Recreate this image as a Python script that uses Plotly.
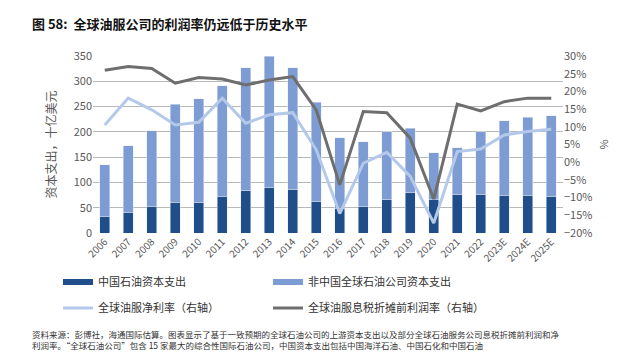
import plotly.graph_objects as go

years = ["2006", "2007", "2008", "2009", "2010", "2011", "2012", "2013", "2014", "2015",
         "2016", "2017", "2018", "2019", "2020", "2021", "2022", "2023E", "2024E", "2025E"]
capex_china = [32, 41, 53, 61, 61, 72, 85, 89, 87, 63, 49, 53, 66, 80, 66, 77, 77, 75, 75, 73]
capex_total = [135, 173, 202, 255, 265, 291, 327, 350, 327, 259, 188, 180, 200, 207, 159, 169, 200, 222, 229, 232]
capex_non_china = [t - c for t, c in zip(capex_total, capex_china)]
net_margin = [10.5, 18.1, 14.8, 10.5, 11.3, 18.1, 11.0, 13.4, 14.0, 3.5,
              -14.5, -0.3, 2.8, -4.0, -17.2, 3.0, 3.7, 7.7, 8.7, 9.3]
ebitda_margin = [26.0, 27.0, 26.5, 22.3, 23.9, 23.5, 21.8, 23.2, 24.2, 14.8,
                 -6.4, 14.3, 14.0, 6.8, -10.4, 16.4, 14.5, 17.1, 18.1, 18.1]

C_DARK = "#1F4E8A"
C_MID = "#7C9CD3"
C_LIGHT = "#B4C9EA"
C_GRAY = "#6E6E6E"
FONT = "Noto Sans CJK SC"

# plot area in pixels
PL, PR, PT, PB = 85, 555, 48, 225
PW, PH = PR - PL, PB - PT


def px_x(px):
    return (px - PL) / PW


def px_y(py):
    return (PB - py) / PH


fig = go.Figure()
fig.add_trace(go.Bar(x=years, y=capex_china, marker_color=C_DARK, showlegend=False, name="中国石油资本支出"))
fig.add_trace(go.Bar(x=years, y=capex_non_china, marker_color=C_MID, showlegend=False, name="非中国全球石油公司资本支出"))
fig.add_trace(go.Scatter(x=years, y=net_margin, yaxis="y2", mode="lines",
                         line=dict(color=C_LIGHT, width=3), name="全球油服净利率（右轴）", legend="legend3"))
fig.add_trace(go.Scatter(x=years, y=ebitda_margin, yaxis="y2", mode="lines",
                         line=dict(color=C_GRAY, width=3), name="全球油服息税折摊前利润率（右轴）", legend="legend4"))
# legend swatches for bars (drawn as thick lines like the reference)
fig.add_trace(go.Scatter(x=[None], y=[None], mode="lines", line=dict(color=C_DARK, width=6),
                         name="中国石油资本支出", legend="legend"))
fig.add_trace(go.Scatter(x=[None], y=[None], mode="lines", line=dict(color=C_MID, width=6),
                         name="非中国全球石油公司资本支出", legend="legend2"))


def leg(xp, yp):
    return dict(orientation="h", xref="paper", yref="paper", xanchor="left", yanchor="middle",
                x=px_x(xp), y=px_y(yp), font=dict(size=11, color="#333333", family=FONT),
                bgcolor="rgba(0,0,0,0)", itemwidth=30)


fig.update_layout(
    width=628, height=359,
    margin=dict(l=PL, r=628 - PR, t=PT, b=359 - PB),
    paper_bgcolor="white", plot_bgcolor="white",
    barmode="stack", bargap=0.58,
    font=dict(family=FONT, size=11, color="#595959"),
    xaxis=dict(type="category", tickangle=-45, tickfont=dict(size=10, color="#595959"),
               showgrid=False, showline=False, ticks="", range=[-0.5, 19.5]),
    yaxis=dict(range=[0, 350], dtick=50, gridcolor="#B8B8B8", gridwidth=1, zeroline=False,
               tickfont=dict(size=11, color="#595959"), ticks="",
               title=dict(text="资本支出，十亿美元", font=dict(size=12, color="#595959"), standoff=14)),
    yaxis2=dict(overlaying="y", side="right", range=[-20, 30], dtick=5, ticksuffix="%",
                showgrid=False, zeroline=False, tickfont=dict(size=11, color="#595959"),
                title=dict(text="%", font=dict(size=11, color="#595959"), standoff=8)),
    legend=leg(50, 274),
    legend2=leg(260, 274),
    legend3=leg(50, 300),
    legend4=leg(260, 300),
    showlegend=True,
)

fig.add_annotation(text="<b>图 58:  全球油服公司的利润率仍远低于历史水平</b>", xref="paper", yref="paper",
                   x=px_x(22), y=px_y(15), xanchor="left", yanchor="middle", showarrow=False,
                   font=dict(size=13, color="#111111", family=FONT))
fig.add_annotation(text="资料来源：彭博社，海通国际估算。图表显示了基于一致预期的全球石油公司的上游资本支出以及部分全球石油服务公司息税折摊前利润和净<br>"
                        "利润率。“全球石油公司”包含 15 家最大的综合性国际石油公司，中国资本支出包括中国海洋石油、中国石化和中国石油",
                   xref="paper", yref="paper", x=px_x(22), y=px_y(318), xanchor="left", yanchor="top",
                   align="left", showarrow=False, font=dict(size=8.5, color="#333333", family=FONT))

fig.write_html("out.html")
